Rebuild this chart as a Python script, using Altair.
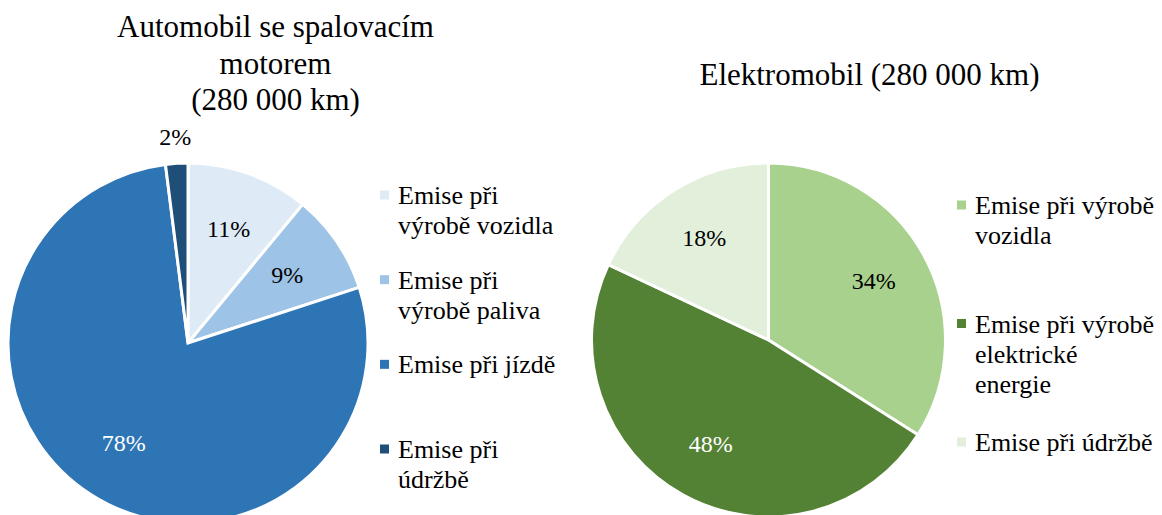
import altair as alt
import pandas as pd

# ---------------- data ----------------
title_ice = "Automobil se spalovacím\nmotorem\n(280 000 km)"
cats_ice = ["Emise při výrobě vozidla", "Emise při výrobě paliva",
            "Emise při jízdě", "Emise při údržbě"]
legend_ice = ["Emise při\nvýrobě vozidla", "Emise při\nvýrobě paliva",
              "Emise při jízdě", "Emise při\núdržbě"]
values_ice = [11, 9, 78, 2]

title_ev = "Elektromobil (280 000 km)"
cats_ev = ["Emise při výrobě vozidla", "Emise při výrobě elektrické energie",
           "Emise při údržbě"]
legend_ev = ["Emise při výrobě\nvozidla", "Emise při výrobě\nelektrické\nenergie",
             "Emise při údržbě"]
values_ev = [34, 48, 18]

# ---------------- styles ----------------
FONT = "Liberation Serif, Times New Roman, serif"
colors_ice = ["#DEEBF7", "#9DC3E6", "#2E75B6", "#1F4E79"]
textcol_ice = ["#000000", "#000000", "#FFFFFF", "#000000"]
colors_ev = ["#A9D18E", "#548235", "#E2EFDA"]
textcol_ev = ["#000000", "#FFFFFF", "#000000"]


def frame(cats, legend, values):
    return pd.DataFrame({"category": cats, "legend": legend, "value": values,
                         "idx": list(range(len(cats)))})


def labels(df, test, lab_r, cx, cy, tfill, color=None):
    ch = alt.Chart(df).transform_stack(
        stack="value", as_=["v0", "v1"], groupby=[],
        sort=[alt.SortField("idx", order="ascending")]
    ).transform_calculate(
        mid="(datum.v0 + datum.v1) / 2",
        lbl="datum.value + '%'"
    ).transform_filter(test)
    mk = dict(radius=lab_r, font=FONT, fontSize=24)
    enc = dict(theta=alt.Theta("mid:Q", stack=None, scale=alt.Scale(domain=[0, 100])),
               text="lbl:N", x=alt.value(cx), y=alt.value(cy))
    if color is None:
        enc["color"] = tfill
    else:
        mk["color"] = color
    return ch.mark_text(**mk).encode(**enc)


def panel(title, cats, legend, values, colors, textcols,
          cx, cy, r, lab_r, out_r, leg_x, leg_range, tx, ty):
    df = frame(cats, legend, values)
    fill = alt.Color("category:N", scale=alt.Scale(domain=cats, range=colors), legend=None)
    tfill = alt.Color("category:N", scale=alt.Scale(domain=cats, range=textcols), legend=None)

    arcs = alt.Chart(df).mark_arc(radius=r, stroke="white", strokeWidth=3).encode(
        theta=alt.Theta("value:Q", stack=True), order=alt.Order("idx:Q"),
        color=fill, x=alt.value(cx), y=alt.value(cy))

    out = [arcs, labels(df, "datum.value >= 5", lab_r, cx, cy, tfill)]
    if min(values) < 5:
        out.append(labels(df, "datum.value < 5", out_r, cx, cy, tfill, color="#000000"))

    ly = alt.Y("category:N", sort=cats, axis=None,
               scale=alt.Scale(type="point", range=leg_range, padding=0))
    squares = alt.Chart(df).mark_square(size=81, opacity=1).encode(
        x=alt.value(leg_x), y=ly, color=fill)
    texts = alt.Chart(df).mark_text(
        align="left", baseline="alphabetic", dy=9, lineBreak="\n",
        lineHeight=30, fontSize=26, font=FONT, color="#000000").encode(
        x=alt.value(leg_x + 13.5), y=ly, text="legend:N")

    ttl = alt.Chart(pd.DataFrame({"t": [title]})).mark_text(
        align="center", baseline="alphabetic", lineBreak="\n",
        lineHeight=36.5, fontSize=31, font=FONT, color="#000000").encode(
        x=alt.value(tx), y=alt.value(ty), text="t:N")

    return out + [squares, texts, ttl]


layers = panel(title_ice, cats_ice, legend_ice, values_ice, colors_ice, textcol_ice,
               cx=180, cy=335, r=180, lab_r=120, out_r=205,
               leg_x=376.5, leg_range=[187, 441], tx=267.5, ty=29)
layers += panel(title_ev, cats_ev, legend_ev, values_ev, colors_ev, textcol_ev,
                cx=760.5, cy=332, r=177, lab_r=120, out_r=205,
                leg_x=953.5, leg_range=[197, 434], tx=861.5, ty=77)

chart = alt.layer(*layers).resolve_scale(
    theta="independent", color="independent", y="independent"
).properties(
    width=1146, height=507,
    autosize=alt.AutoSizeParams(type="none"),
    padding=0,
).configure_view(stroke=None)

chart.save("out.html", embed_options={"renderer": "svg", "actions": False})
